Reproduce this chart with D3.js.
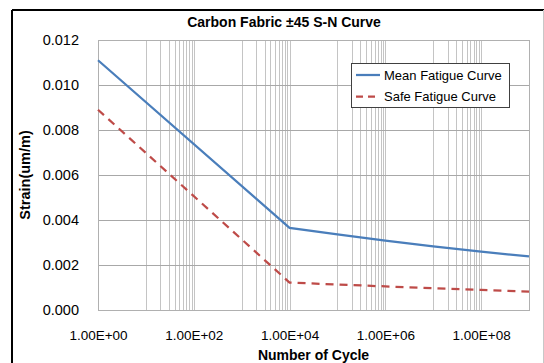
<!DOCTYPE html>
<html>
<head>
<meta charset="utf-8">
<script src="https://cdn.jsdelivr.net/npm/d3@7"></script>
<style>
  body { margin: 0; background: #fff; }
  text { font-family: "Liberation Sans", Arial, sans-serif; fill: #000; }
</style>
</head>
<body>
<svg id="chart" width="544" height="363"></svg>
<script>
'use strict';

// data
var cycles = [1, 1e4, 1e5, 1e6, 1e7, 1e8, 1e9];
var meanStrain = [0.0111, 0.00365, 0.00336, 0.00308, 0.00283, 0.00259, 0.00238];
var safeStrain = [0.0089, 0.00122, 0.00113, 0.00105, 0.00097, 0.00089, 0.00082];
var xTicks = [1, 1e2, 1e4, 1e6, 1e8];
var yTicks = [0, 0.002, 0.004, 0.006, 0.008, 0.010, 0.012];
var seriesNames = ['Mean Fatigue Curve', 'Safe Fatigue Curve'];

var svg = d3.select('#chart');
var plotL = 98, plotR = 529, plotT = 40, plotB = 310;

var x = d3.scaleLog().domain([1, 1e9]).range([plotL, plotR]);
var y = d3.scaleLinear().domain([0, 0.012]).range([plotB, plotT]);

// chart frame (cropped on right/bottom)
svg.append('line').attr('x1', 12).attr('y1', 10).attr('x2', 544).attr('y2', 10)
  .attr('stroke', '#000').attr('stroke-width', 2);
svg.append('line').attr('x1', 12).attr('y1', 10).attr('x2', 12).attr('y2', 363)
  .attr('stroke', '#000').attr('stroke-width', 2);
svg.append('line').attr('x1', 543.5).attr('y1', 10).attr('x2', 543.5).attr('y2', 363)
  .attr('stroke', '#c8c8c8').attr('stroke-width', 1);

// vertical grid: base 100 log axis with minor lines at 10..90 x major
var vLines = [];
for (var k = 0; k < 9; k += 2) {
  vLines.push(Math.pow(10, k));
  for (var m = 1; m <= 9; m++) vLines.push(Math.pow(10, k + 1) * m);
}
vLines = vLines.filter(function (d) { return d <= 1e9; });

svg.append('g').selectAll('line')
  .data(vLines)
  .enter()
  .append('line')
  .attr('x1', function (d) { return Math.round(x(d)) + 0.5; })
  .attr('x2', function (d) { return Math.round(x(d)) + 0.5; })
  .attr('y1', plotT).attr('y2', plotB)
  .attr('stroke', '#c4c4c4').attr('stroke-width', 1);

svg.append('g').selectAll('line')
  .data(yTicks)
  .enter()
  .append('line')
  .attr('x1', plotL).attr('x2', plotR)
  .attr('y1', function (d) { return Math.round(y(d)) + 0.5; })
  .attr('y2', function (d) { return Math.round(y(d)) + 0.5; })
  .attr('stroke', '#a8a8a8').attr('stroke-width', 1);

svg.append('rect')
  .attr('x', plotL + 0.5).attr('y', plotT + 0.5)
  .attr('width', plotR - plotL).attr('height', plotB - plotT)
  .attr('fill', 'none').attr('stroke', '#b0b0b0');

// axes
var fmtExp = function (d) {
  var e = Math.round(Math.log10(d));
  return '1.00E+' + (e < 10 ? '0' + e : e);
};

var xAxis = svg.append('g')
  .attr('transform', 'translate(0,' + plotB + ')')
  .call(d3.axisBottom(x).tickValues(xTicks).tickFormat(fmtExp).tickSize(0).tickPadding(20));
xAxis.select('.domain').remove();
xAxis.selectAll('text').style('font-size', '13.5px').attr('fill', '#000');

var yAxis = svg.append('g')
  .attr('transform', 'translate(' + plotL + ',0)')
  .call(d3.axisLeft(y).tickValues(yTicks).tickFormat(d3.format('.3f')).tickSize(0).tickPadding(19));
yAxis.select('.domain').remove();
yAxis.selectAll('text').style('font-size', '14.5px').attr('fill', '#000');

// lines
var line = d3.line()
  .x(function (d) { return x(d[0]); })
  .y(function (d) { return y(d[1]); });

svg.append('path')
  .datum(d3.zip(cycles, meanStrain))
  .attr('d', line)
  .attr('fill', 'none')
  .attr('stroke', '#4a7ebb')
  .attr('stroke-width', 2.25);

svg.append('path')
  .datum(d3.zip(cycles, safeStrain))
  .attr('d', line)
  .attr('fill', 'none')
  .attr('stroke', '#be4b48')
  .attr('stroke-width', 2.25)
  .attr('stroke-dasharray', '8,6');

// titles
svg.append('text')
  .attr('x', 284).attr('y', 27)
  .attr('text-anchor', 'middle')
  .style('font-size', '14px').style('font-weight', 'bold')
  .text('Carbon Fabric \u00b145 S-N Curve');

svg.append('text')
  .attr('x', (plotL + plotR) / 2).attr('y', 360)
  .attr('text-anchor', 'middle')
  .style('font-size', '14px').style('font-weight', 'bold')
  .text('Number of Cycle');

svg.append('text')
  .attr('transform', 'translate(30,' + (plotT + plotB) / 2 + ') rotate(-90)')
  .attr('text-anchor', 'middle')
  .style('font-size', '14.5px').style('font-weight', 'bold')
  .text('Strain(um/m)');

// legend
var legend = svg.append('g');
legend.append('rect')
  .attr('x', 351.5).attr('y', 63.5).attr('width', 158).attr('height', 44)
  .attr('fill', '#fff').attr('stroke', '#404040').attr('stroke-width', 1);

var items = legend.selectAll('g.item')
  .data(seriesNames)
  .enter()
  .append('g')
  .attr('class', 'item')
  .attr('transform', function (d, i) { return 'translate(0,' + (75 + i * 21.5) + ')'; });

items.append('line')
  .attr('x1', 356).attr('x2', 380)
  .attr('y1', 0).attr('y2', 0)
  .attr('stroke', function (d, i) { return i === 0 ? '#4a7ebb' : '#be4b48'; })
  .attr('stroke-width', 2.25)
  .attr('stroke-dasharray', function (d, i) { return i === 0 ? null : '7,5'; });

items.append('text')
  .attr('x', 384).attr('y', 4.5)
  .style('font-size', '13px')
  .text(function (d) { return d; });
</script>
</body>
</html>
